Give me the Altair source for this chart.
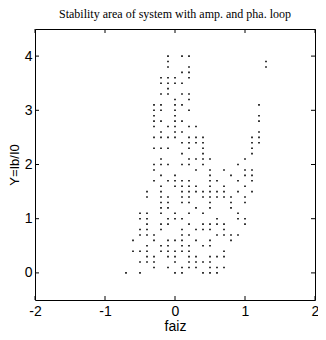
import altair as alt
import pandas as pd

# Rows of the stability region: Y level -> faiz values present at that level
y_levels = [4.0, 3.9, 3.8, 3.7, 3.6, 3.5, 3.4, 3.3, 3.2, 3.1, 3.0,
            2.9, 2.8, 2.7, 2.6, 2.5, 2.4, 2.3, 2.2, 2.1, 2.0,
            1.9, 1.8, 1.7, 1.6, 1.5, 1.4, 1.3, 1.2, 1.1, 1.0,
            0.9, 0.8, 0.7, 0.6, 0.5, 0.4, 0.3, 0.2, 0.1, 0.0]
faiz_rows = [
    [-0.1, 0.1, 0.2],
    [-0.1, 1.3],
    [-0.1, 0.2, 1.3],
    [0.1, 0.2],
    [-0.2, -0.1, 0.0, 0.2],
    [-0.2, -0.1, 0.0, 0.1],
    [-0.1],
    [-0.2, -0.1, 0.1, 0.2],
    [0.0, 0.2],
    [-0.3, -0.2, 0.0, 0.1, 1.2],
    [-0.3, -0.2, 0.0, 0.2],
    [-0.3, 0.0, 1.2],
    [-0.3, -0.2, 0.0, 0.1, 1.2],
    [-0.3, -0.1, 0.0, 0.2, 0.3],
    [-0.2, 0.0, 0.1, 1.2],
    [-0.3, -0.2, -0.1, 0.0, 0.2, 0.3, 0.4, 1.1, 1.2],
    [0.1, 0.2, 0.3, 0.4, 1.1, 1.2],
    [-0.3, -0.2, -0.1, 0.2, 0.4, 1.1],
    [0.1, 0.4, 1.1],
    [-0.2, 0.2, 0.3, 0.4, 0.5, 1.0],
    [-0.3, -0.2, -0.1, 0.1, 0.2, 0.4, 0.9],
    [-0.3, 0.3, 0.5, 0.7, 1.0, 1.1],
    [-0.2, 0.0, 0.5, 0.8, 1.0, 1.1],
    [-0.3, -0.1, 0.0, 0.1, 0.2, 0.5, 0.6, 0.9, 1.1],
    [-0.2, 0.0, 0.1, 0.2, 0.3, 0.5, 0.7, 1.0],
    [-0.4, -0.2, 0.1, 0.2, 0.3, 0.4, 0.5, 0.6, 0.7, 0.9, 1.1],
    [-0.4, -0.2, -0.1, 0.1, 0.2, 0.4, 0.5, 0.6, 0.7, 0.8, 1.0],
    [-0.2, -0.1, 0.1, 0.2, 0.5, 0.8, 1.0],
    [-0.2, -0.1, 0.3, 0.5, 0.8],
    [-0.5, -0.4, -0.2, 0.0, 0.2, 0.4, 0.9],
    [-0.5, -0.4, -0.1, 0.0, 0.1, 0.6, 0.9, 1.0],
    [-0.4, -0.2, -0.1, 0.2, 0.4, 0.5, 0.6, 0.7, 1.0],
    [-0.5, -0.4, -0.2, 0.1, 0.3, 0.4, 0.5, 0.7],
    [-0.5, -0.4, -0.3, 0.1, 0.2, 0.6, 0.7, 0.8, 0.9],
    [-0.6, -0.3, -0.1, 0.0, 0.1, 0.3, 0.5, 0.8],
    [-0.4, -0.2, -0.1, 0.1, 0.2, 0.4, 0.5],
    [-0.6, -0.5, -0.4, -0.2, -0.1, 0.0, 0.1, 0.2, 0.7],
    [-0.4, -0.3, -0.1, 0.0, 0.2, 0.3, 0.5, 0.6, 0.7],
    [-0.5, -0.4, -0.3, 0.0, 0.2, 0.3, 0.4, 0.5],
    [-0.3, -0.1, 0.1, 0.2, 0.3, 0.5, 0.6, 0.7],
    [-0.7, -0.5, 0.0, 0.1, 0.4, 0.5, 0.6],
]
x_ticks = [-2, -1, 0, 1, 2]
y_ticks = [0, 1, 2, 3, 4]

pts = pd.DataFrame(
    [(fx, yv) for yv, row in zip(y_levels, faiz_rows) for fx in row],
    columns=["faiz", "Y"],
)
xt = pd.DataFrame({"t": x_ticks})
yt = pd.DataFrame({"t": y_ticks})

W, H = 280, 271
FONT = "Liberation Sans"
xscale = alt.Scale(domain=[-2, 2], nice=False, zero=False)
yscale = alt.Scale(domain=[-0.5, 4.5], nice=False, zero=False)
label_expr = "'' + datum.value"

points = alt.Chart(pts).mark_square(size=2.5, color="black", opacity=1).encode(
    x=alt.X("faiz:Q", scale=xscale,
            axis=alt.Axis(values=x_ticks, title="faiz", tickSize=0, labelPadding=4,
                          labelExpr=label_expr,
                          grid=False, domain=False, labelFont=FONT, labelFontSize=14,
                          labelColor="black", titleFont=FONT, titleFontSize=14,
                          titleFontWeight="normal", titleColor="black", titlePadding=1,
                          labelFlush=False, labelOverlap=False)),
    y=alt.Y("Y:Q", scale=yscale,
            axis=alt.Axis(values=y_ticks, title="Y=Ib/I0", tickSize=0, labelPadding=3,
                          labelExpr=label_expr,
                          grid=False, domain=False, labelFont=FONT, labelFontSize=14,
                          labelColor="black", titleFont=FONT, titleFontSize=13,
                          titleFontWeight="normal", titleColor="black", titlePadding=3,
                          labelFlush=False, labelOverlap=False)),
)

tick_color = "black"
xb = alt.Chart(xt).mark_rule(color=tick_color, strokeWidth=1).encode(
    x=alt.X("t:Q", scale=xscale), y=alt.value(H), y2=alt.value(H - 4))
xtp = alt.Chart(xt).mark_rule(color=tick_color, strokeWidth=1).encode(
    x=alt.X("t:Q", scale=xscale), y=alt.value(0), y2=alt.value(4))
yl = alt.Chart(yt).mark_rule(color=tick_color, strokeWidth=1).encode(
    y=alt.Y("t:Q", scale=yscale), x=alt.value(0), x2=alt.value(4))
yr = alt.Chart(yt).mark_rule(color=tick_color, strokeWidth=1).encode(
    y=alt.Y("t:Q", scale=yscale), x=alt.value(W), x2=alt.value(W - 4))

chart = alt.layer(points, xb, xtp, yl, yr).properties(
    width=W,
    height=H,
    title=alt.TitleParams("Stability area of system with amp. and pha. loop",
                          font="Liberation Serif", fontSize=12, fontWeight="normal",
                          color="black", anchor="middle", offset=8),
    autosize=alt.AutoSizeParams(type="none"),
    padding={"left": 27, "top": 21, "right": 3, "bottom": 32},
    background="white",
).configure_view(stroke="black", strokeWidth=1)

chart.save("out.html", embed_options={"renderer": "svg", "actions": False})
